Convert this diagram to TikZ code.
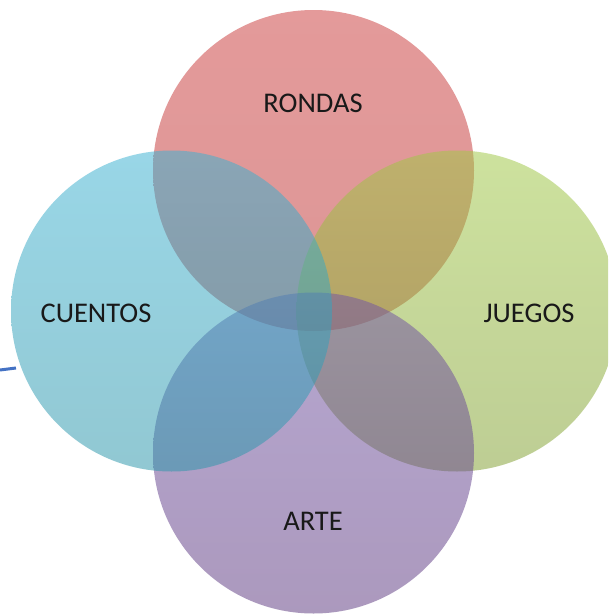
\documentclass[tikz,border=0pt]{standalone}
\usepackage{fontspec}
\setmainfont{Carlito}
\definecolor{rojo1}{RGB}{204,62,62}
\definecolor{rojo2}{RGB}{190,55,55}
\definecolor{azul1}{RGB}{60,178,210}
\definecolor{azul2}{RGB}{45,150,170}
\definecolor{verde1}{RGB}{160,200,70}
\definecolor{verde2}{RGB}{130,160,50}
\definecolor{lila1}{RGB}{115,85,165}
\definecolor{lila2}{RGB}{95,60,130}
\definecolor{linea}{RGB}{68,114,196}
\begin{document}
\begin{tikzpicture}[x=1pt,y=-1pt,
  venn/.style={circle,inner sep=0pt,minimum size=321pt,draw=none,fill opacity=0.52},
  lbl/.style={font=\fontsize{28.5}{30}\selectfont,text=black!90}]
\useasboundingbox (0,0) rectangle (608,616);
\clip (0,0) rectangle (608,616);
\fill[white] (0,0) rectangle (608,616);
\node[venn,top color=rojo1,bottom color=rojo2] (cR) at (313.5,170.5) {};
\node[venn,top color=verde1,bottom color=verde2] (cJ) at (457,311) {};
\node[venn,top color=lila1,bottom color=lila2] (cA) at (313.5,453) {};
\node[venn,top color=azul1,bottom color=azul2] (cC) at (171.5,311) {};
\node[lbl] (tR) at (313,103) {RONDAS};
\node[lbl] (tC) at (96,313) {CUENTOS};
\node[lbl] (tJ) at (529,313) {JUEGOS};
\node[lbl] (tA) at (313,521) {ARTE};
\coordinate (l1) at (0,370);
\coordinate (l2) at (16,368);
\draw[linea,line width=3pt] (l1) -- (l2);
\end{tikzpicture}
\end{document}
